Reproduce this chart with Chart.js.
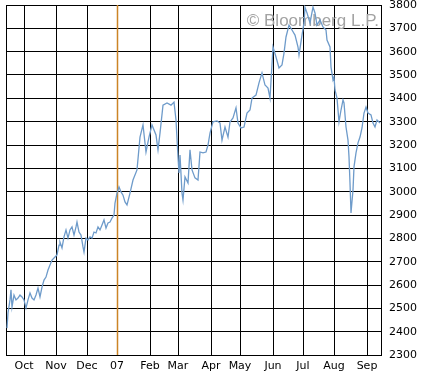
<!DOCTYPE html>
<html lang="en">
<head>
    <meta charset="UTF-8">
    <title>Index chart</title>
    <script src="https://cdn.jsdelivr.net/npm/chart.js"></script>
    <style>
        body { margin: 0; background: #fff; }
        canvas { display: block; }
    </style>
</head>
<body>
    <canvas id="chart" width="427" height="379"></canvas>
    <script>
        // trading position (approx. days from mid Sep 2006) and closing level
        const days = [1, 2, 4, 5, 6, 8, 10, 12, 14, 16, 18, 20, 22, 24, 26, 28, 30, 32, 34, 36,
            38, 40, 42, 44, 46, 49, 51, 53, 54, 56, 58, 60, 62, 64, 66, 68, 70, 71, 73, 75,
            77, 78, 80, 82, 84, 86, 88, 90, 92, 94, 96, 98, 100, 102, 104, 106, 108, 109, 111, 113,
            115, 117, 119, 121, 124, 127, 131, 134, 137, 140, 143, 146, 150, 152, 154, 157, 161, 165, 168, 170,
            172, 173, 174, 176, 177, 179, 182, 184, 186, 189, 192, 194, 197, 200, 202, 204, 207, 211, 214, 216,
            219, 222, 224, 227, 230, 232, 235, 238, 241, 244, 246, 250, 253, 256, 259, 262, 264, 267, 270, 273,
            276, 278, 280, 283, 286, 289, 292, 293, 296, 298, 299, 301, 304, 307, 309, 311, 314, 317, 320, 321,
            324, 325, 327, 328, 329, 331, 333, 335, 337, 338, 340, 342, 343, 344, 345, 347, 348, 350, 352, 354,
            356, 358, 360, 362, 365, 367, 369, 371, 374];
        const values = [2415, 2480, 2536, 2579, 2506, 2557, 2536, 2544, 2557, 2549, 2536, 2501, 2536, 2566, 2544, 2536, 2557, 2587, 2549, 2591,
            2621, 2634, 2664, 2686, 2707, 2720, 2729, 2771, 2784, 2759, 2806, 2836, 2801, 2836, 2849, 2814, 2849, 2870, 2827, 2814,
            2763, 2741, 2801, 2793, 2806, 2801, 2827, 2823, 2849, 2836, 2857, 2879, 2844, 2866, 2870, 2887, 2900, 2951, 2994, 3020,
            2999, 2985, 2956, 2943, 2994, 3050, 3093, 3234, 3286, 3170, 3234, 3286, 3243, 3179, 3251, 3371, 3380, 3371, 3384, 3307,
            3149, 3080, 3157, 2994, 2964, 3063, 3037, 3179, 3093, 3059, 3050, 3170, 3166, 3170, 3200, 3251, 3299, 3303, 3294, 3221,
            3277, 3234, 3299, 3316, 3359, 3294, 3273, 3277, 3337, 3350, 3401, 3414, 3466, 3509, 3457, 3444, 3401, 3620, 3577, 3530,
            3543, 3594, 3663, 3714, 3693, 3671, 3620, 3586, 3671, 3723, 3790, 3766, 3723, 3791, 3766, 3714, 3736, 3706, 3693, 3650,
            3620, 3534, 3479, 3491, 3436, 3401, 3299, 3350, 3393, 3380, 3277, 3221, 3149, 3037, 2909, 3007, 3106, 3166, 3209, 3234,
            3273, 3337, 3363, 3337, 3329, 3294, 3277, 3307, 3294];

        // month boundaries on the same position scale, and their labels
        const monthStarts = [18, 50, 81, 111, 144, 172, 205, 234, 267, 297, 328, 361];
        const monthLabels = ['Oct', 'Nov', 'Dec', '07', 'Feb', 'Mar', 'Apr', 'May', 'Jun', 'Jul', 'Aug', 'Sep'];
        const yearStart = '07';
        const xMin = 0, xMax = 375;
        const yMin = 2300, yMax = 3800, yStep = 100;

        const tickDays = [xMin].concat(monthStarts, [xMax]);
        const yearDay = monthStarts[monthLabels.indexOf(yearStart)];

        // bloomberg watermark + orange year divider, under the price line
        const extras = {
            id: 'extras',
            beforeDatasetsDraw(chart) {
                const ctx = chart.ctx;
                const area = chart.chartArea;
                const x = Math.round(chart.scales.x.getPixelForValue(yearDay)) + 0.5;
                ctx.save();
                ctx.strokeStyle = '#cc8426';
                ctx.lineWidth = 1.5;
                ctx.beginPath();
                ctx.moveTo(x, area.top);
                ctx.lineTo(x, area.bottom);
                ctx.stroke();

                ctx.font = '17px "Liberation Sans", Arial, sans-serif';
                ctx.fillStyle = '#a3a3a3';
                ctx.textAlign = 'right';
                ctx.textBaseline = 'alphabetic';
                ctx.fillText('\u00A9 Bloomberg L.P.', area.right - 2, 26);
                ctx.restore();
            }
        };

        new Chart(document.getElementById('chart'), {
            type: 'line',
            data: {
                datasets: [{
                    data: days.map((d, i) => ({ x: d, y: values[i] })),
                    borderColor: '#6e9bca',
                    borderWidth: 1.3,
                    pointRadius: 0,
                    tension: 0,
                    fill: false
                }]
            },
            options: {
                responsive: false,
                animation: false,
                layout: { padding: { left: 6, top: 5, right: 0, bottom: 0 } },
                plugins: { legend: { display: false }, tooltip: { enabled: false } },
                scales: {
                    x: {
                        type: 'linear',
                        min: xMin,
                        max: xMax,
                        afterBuildTicks(scale) {
                            scale.ticks = tickDays.map(v => ({ value: v }));
                        },
                        afterFit(scale) {
                            scale.height = 24;
                            scale.paddingLeft = 0;
                            scale.paddingRight = 0;
                        },
                        grid: {
                            color: ctx => (ctx.tick && ctx.tick.value === yearDay) ? 'rgba(0,0,0,0)' : '#000',
                            lineWidth: 1,
                            drawTicks: false
                        },
                        border: { color: '#000', width: 1 },
                        ticks: {
                            autoSkip: false,
                            maxRotation: 0,
                            padding: 5,
                            color: '#000',
                            font: { family: '"DejaVu Sans", Verdana, sans-serif', size: 11 },
                            callback(value) {
                                const i = monthStarts.indexOf(value);
                                return i >= 0 ? monthLabels[i] : '';
                            }
                        }
                    },
                    y: {
                        position: 'right',
                        min: yMin,
                        max: yMax,
                        afterFit(scale) {
                            scale.width = 46;
                            scale.paddingTop = 0;
                            scale.paddingBottom = 0;
                        },
                        grid: { color: '#000', lineWidth: 1, drawTicks: false },
                        border: { color: '#000', width: 1 },
                        ticks: {
                            stepSize: yStep,
                            padding: 8,
                            color: '#000',
                            font: { family: '"DejaVu Sans", Verdana, sans-serif', size: 11 },
                            callback: value => String(value)
                        }
                    }
                }
            },
            plugins: [extras]
        });
    </script>
</body>
</html>
